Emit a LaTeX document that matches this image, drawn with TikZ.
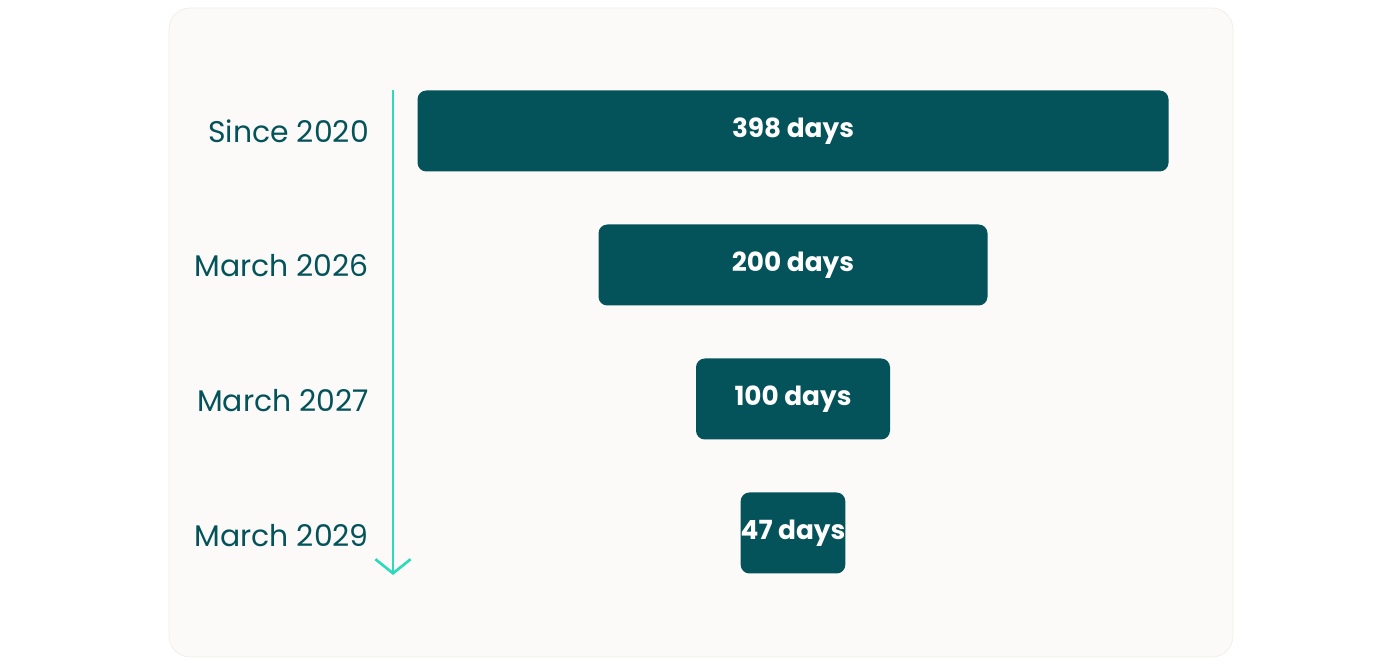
\documentclass[tikz,border=0pt]{standalone}
\usepackage{fontspec}
\setmainfont{Poppins}
\usetikzlibrary{positioning}
\usetikzlibrary{arrows.meta}
\definecolor{teal}{HTML}{04525A}
\definecolor{mint}{HTML}{2DDBB8}
\definecolor{card}{HTML}{FBFAF8}
\definecolor{cardline}{HTML}{EFEDE8}
\tikzset{bar/.style={rectangle,rounded corners=5pt,fill=teal,text=white,inner sep=0pt,font=\fontsize{15}{18}\selectfont\bfseries}}
\tikzset{year/.style={anchor=east,text=teal,font=\fontsize{17}{20}\selectfont}}
\begin{document}
\begin{tikzpicture}[x=0.02cm,y=-0.02cm]
\useasboundingbox (0,0) rectangle (1400,668);
\draw[cardline, fill=card, rounded corners=12pt] (169,8) rectangle (1233,657);
\node[bar, minimum width=751*0.02cm, minimum height=81*0.02cm] (b1) at (793,131) {398 days};
\node[bar, minimum width=389*0.02cm, minimum height=81*0.02cm] (b2) at (793,265) {200 days};
\node[bar, minimum width=194*0.02cm, minimum height=81*0.02cm] (b3) at (793,399) {100 days};
\node[bar, minimum width=97*0.02cm, minimum height=81*0.02cm] (b4) at (793,533) {47 days};
\node[year] (y1) at (375,131) {Since 2020};
\node[year] (y2) at (375,266) {March 2026};
\node[year] (y3) at (375,401) {March 2027};
\node[year] (y4) at (375,536) {March 2029};
\coordinate (top) at (393,90);
\coordinate (bot) at (393,575);
\draw[mint, line width=1.5pt, -{Straight Barb[length=8pt,width=20pt,line width=1.5pt]}] (top) -- (bot);
\end{tikzpicture}
\end{document}
